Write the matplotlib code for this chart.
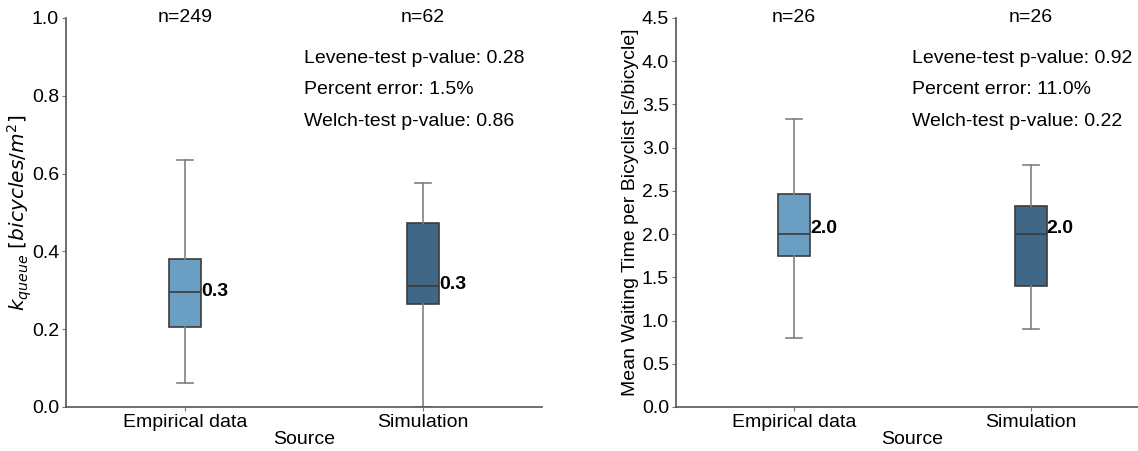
import matplotlib
matplotlib.use("Agg")
import matplotlib.pyplot as plt

plt.rcParams['font.family'] = ['Liberation Sans', 'DejaVu Sans']
plt.rcParams['mathtext.fontset'] = 'dejavusans'

# 分類
SOURCES = ["Empirical data", "Simulation"]
BOX_COLORS = ["#6a9ec2", "#416786"]

# 左: k_queue
K_COUNTS = [249, 62]
K_WHISLO = [0.062, 0.0]
K_Q1 = [0.206, 0.265]
K_MED = [0.296, 0.311]
K_Q3 = [0.380, 0.473]
K_WHISHI = [0.635, 0.576]
K_STATS = ["Levene-test p-value: 0.28", "Percent error: 1.5%", "Welch-test p-value: 0.86"]

# 右: 待ち時間
W_COUNTS = [26, 26]
W_WHISLO = [0.80, 0.90]
W_Q1 = [1.75, 1.40]
W_MED = [2.0, 2.0]
W_Q3 = [2.465, 2.33]
W_WHISHI = [3.33, 2.80]
W_STATS = ["Levene-test p-value: 0.92", "Percent error: 11.0%", "Welch-test p-value: 0.22"]

FS = 14


def draw(ax, counts, lo, q1, med, q3, hi, stats_text, ylim, yticks, ylabel, ylabel_fs, med_dy):
	stats = []
	for i in range(len(SOURCES)):
		stats.append({"whislo": lo[i], "q1": q1[i], "med": med[i], "q3": q3[i],
					  "whishi": hi[i], "fliers": [], "label": SOURCES[i]})
	bp = ax.bxp(stats, positions=range(len(SOURCES)), widths=0.135, patch_artist=True,
				showfliers=False,
				boxprops=dict(edgecolor="#3c3c3c", linewidth=1.2),
				medianprops=dict(color="#3c3c3c", linewidth=1.2),
				whiskerprops=dict(color="#808080", linewidth=1.2),
				capprops=dict(color="#808080", linewidth=1.2))
	for patch, c in zip(bp["boxes"], BOX_COLORS):
		patch.set_facecolor(c)

	ax.set_xlim(-0.5, 1.5)
	ax.set_ylim(*ylim)
	ax.set_yticks(yticks)
	ax.set_yticklabels(["%.1f" % t for t in yticks])
	ax.set_xticks(range(len(SOURCES)))
	ax.set_xticklabels(SOURCES)
	ax.tick_params(labelsize=FS, length=3, color="#777777", pad=2)
	ax.set_xlabel("Source", fontsize=FS, labelpad=0)
	ax.set_ylabel(ylabel, fontsize=ylabel_fs, labelpad=2)
	for s in ["top", "right"]:
		ax.spines[s].set_visible(False)
	for s in ["left", "bottom"]:
		ax.spines[s].set_color("#555555")
		ax.spines[s].set_linewidth(1.2)

	for i in range(len(SOURCES)):
		ax.text(i, ylim[1], "n=%d" % counts[i], ha="center", va="center", fontsize=FS, clip_on=False)
		ax.annotate("%.1f" % med[i], (i + 0.068, med[i]), xytext=(0, med_dy[i]), textcoords="offset pixels",
					ha="left", va="center", fontsize=FS, fontweight="bold")

	for j, t in enumerate(stats_text):
		ax.text(0.50, 0.895 - 0.08 * j, t, transform=ax.transAxes, ha="left", va="center", fontsize=FS)


fig = plt.figure(figsize=(11.38, 4.51), dpi=100)
ax1 = fig.add_axes([0.058, 0.0976, 0.418, 0.8625])
ax2 = fig.add_axes([0.594, 0.0976, 0.4156, 0.8625])

draw(ax1, K_COUNTS, K_WHISLO, K_Q1, K_MED, K_Q3, K_WHISHI, K_STATS,
	 (0, 1.0), [0.0, 0.2, 0.4, 0.6, 0.8, 1.0], r"$k_{queue}\ [bicycles/m^2]$", 14.5, [0, 2])
draw(ax2, W_COUNTS, W_WHISLO, W_Q1, W_MED, W_Q3, W_WHISHI, W_STATS,
	 (0, 4.5), [0.0, 0.5, 1.0, 1.5, 2.0, 2.5, 3.0, 3.5, 4.0, 4.5],
	 "Mean Waiting Time per Bicyclist [s/bicycle]", FS, [6, 6])
ax1.yaxis.set_label_coords(-0.068, 0.5)

fig.savefig("out.png", dpi=100)
